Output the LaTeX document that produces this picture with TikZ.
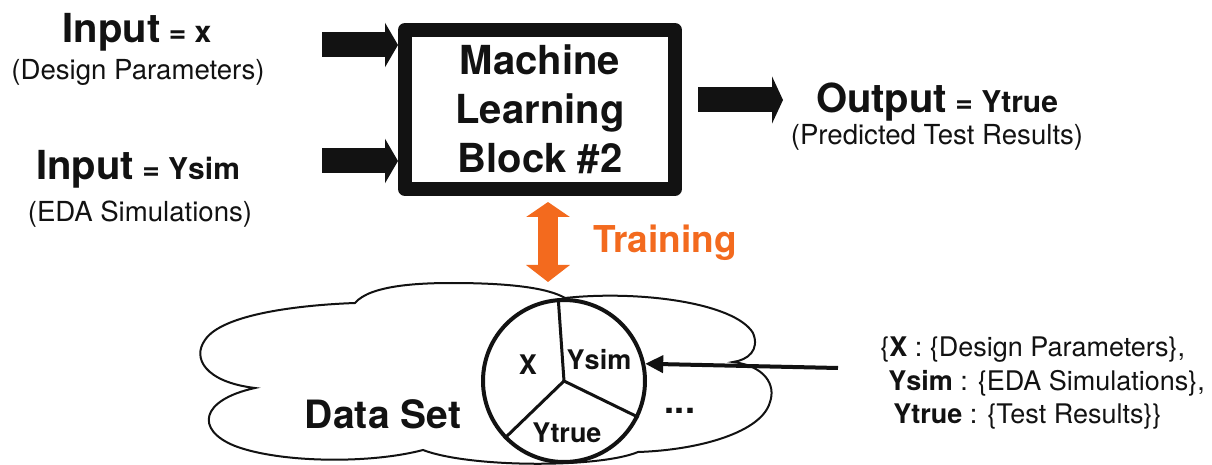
\documentclass[tikz,border=0pt]{standalone}
\usepackage{fontspec}
\setmainfont{TeX Gyre Heros}
\usetikzlibrary{arrows.meta}
\definecolor{ink}{HTML}{121212}
\definecolor{train}{HTML}{F36A1E}
\definecolor{glow}{HTML}{FBB13C}
\newcommand{\fsz}[2]{\fontsize{#1}{#2}\selectfont}

\begin{document}
\begin{tikzpicture}[x=0.5pt,y=-0.5pt,
  every node/.style={text=ink, inner sep=0pt},
  head/.style={anchor=base, font=\bfseries\fsz{20pt}{24pt}},
  sub/.style={anchor=base, font=\fsz{13.8pt}{16pt}},
  small/.style={font=\fsz{15pt}{18pt}},
  fat/.style={draw=ink, line width=12.5pt},
  mlbox/.style={draw=ink, line width=7pt, line join=round, fill=white,
    minimum width=135pt, minimum height=79.5pt, align=center,
    font=\bfseries\fsz{20pt}{24.5pt}},
  piece/.style={font=\bfseries\fsz{13.5pt}{16pt}},
  rec/.style={anchor=base west, font=\fsz{13.5pt}{16pt}}
]
\useasboundingbox (0,0) rectangle (1212,465);
\fill[white] (0,0) rectangle (1212,465);

% ---- inputs ----
\node[head] (inx) at (137,43) {Input{\fsz{15pt}{18pt}\ = x}};
\node[sub] (inxd) at (138,80) {(Design Parameters)};
\node[head] (iny) at (138,180) {Input{\fsz{15pt}{18pt}\ = Ysim}};
\node[sub] (inyd) at (140,221) {(EDA Simulations)};

% ---- learning block ----
\node[mlbox] (box) at (540,109.5) {Machine\\Learning\\Block \#2};

\coordinate (a1) at (322,45);
\coordinate (a2) at (322,161);
\draw[fat, -{Triangle[length=6.5pt,width=22pt]}] (a1) -- (a1 -| box.west);
\draw[fat, -{Triangle[length=6.5pt,width=22pt]}] (a2) -- (a2 -| box.west);

% ---- output ----
\coordinate (o1) at (698,100);
\coordinate (o2) at (783,100);
\draw[fat, -{Triangle[length=5.5pt,width=23.5pt]}] (o1) -- (o2);
\node[head] (out) at (937,113) {Output{\fsz{15pt}{18pt}\ = Ytrue}};
\node[sub] (outd) at (937,145) {(Predicted Test Results)};

% ---- training link ----
\coordinate (t1) at (548,202);
\coordinate (t2) at (548,282);
\draw[train, line width=10pt,
  {Triangle[length=7.5pt,width=21.5pt]}-{Triangle[length=8.5pt,width=21.5pt]}] (t1) -- (t2);
\node[anchor=base, text=train, font=\bfseries\fsz{18.5pt}{22pt}] (trn) at (665,253) {Training};

% ---- data set cloud ----
\draw[ink, line width=1pt, fill=white]
  (565,298) .. controls (640,290) and (735,303) .. (753,333)
  .. controls (760,350) and (748,360) .. (733,362)
  .. controls (765,366) and (776,385) .. (770,402)
  .. controls (762,432) and (700,450) .. (638,452)
  .. controls (600,468) and (470,468) .. (423,450)
  .. controls (370,464) and (280,463) .. (235,446)
  .. controls (195,430) and (200,400) .. (255,388)
  .. controls (205,382) and (192,358) .. (205,340)
  .. controls (222,314) and (300,305) .. (355,303)
  .. controls (370,285) and (420,283) .. (452,283)
  .. controls (510,283) and (548,288) .. (565,298) -- cycle;
\node[anchor=base, font=\bfseries\fsz{19.5pt}{24pt}] (ds) at (383,428) {Data Set};
\node[anchor=base, font=\bfseries\fsz{18pt}{22pt}] (more) at (680,413) {...};

% ---- record pie ----
\node[draw=ink, line width=2pt, fill=white, circle, minimum size=81pt] (pie) at (564,381) {};
\draw[ink, line width=1.5pt] (pie.center) -- (pie.94);
\draw[ink, line width=1.5pt] (pie.center) -- (pie.-26);
\draw[ink, line width=1.5pt] (pie.center) -- (pie.224);
\node[piece] (px) at (528,365) {X};
\node[piece] (py) at (599,360) {Ysim};
\node[piece] (pt) at (567,433) {Ytrue};

% ---- record description ----
\node[rec] (r1) at (880,357) {\{\textbf{X} : \{Design Parameters\},};
\node[rec] (r2) at (888,390) {\textbf{Ysim} : \{EDA Simulations\},};
\node[rec] (r3) at (893,423) {\textbf{Ytrue} : \{Test Results\}\}};
\coordinate (rp) at (838,368);
\draw[ink, line width=2pt, -{Triangle[length=9pt,width=8.5pt]}] (rp) -- (pie.12);
\end{tikzpicture}
\end{document}
